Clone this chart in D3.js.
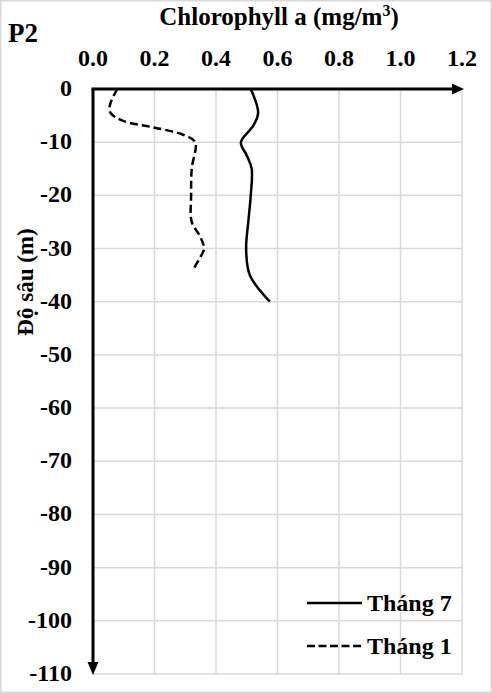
<!DOCTYPE html>
<html>
<head>
<meta charset="utf-8">
<script src="https://cdn.jsdelivr.net/npm/d3@7"></script>
<style>
  body { margin: 0; background: #fff; }
</style>
</head>
<body>
<svg width="492" height="693"></svg>
<script>
(function (d3) {
    'use strict';

    // chlorophyll a (mg/m3) vs depth (m)
    const depthJul = [0, -4.5, -7, -10, -12.5, -15, -20, -25, -30, -35, -40];
    const chlJul   = [0.513, 0.537, 0.52, 0.481, 0.5, 0.516, 0.513, 0.505, 0.498, 0.51, 0.575];

    const depthJan = [0, -3, -4.5, -6, -7.2, -8.6, -10, -15, -20, -25, -27.7, -30, -31.7, -34];
    const chlJan   = [0.079, 0.055, 0.057, 0.098, 0.195, 0.293, 0.332, 0.321, 0.319, 0.321, 0.348, 0.361, 0.348, 0.325];

    const xTicks = [0, 0.2, 0.4, 0.6, 0.8, 1.0, 1.2];
    const yTicks = [0, -10, -20, -30, -40, -50, -60, -70, -80, -90, -100, -110];
    const seriesNames = ['Tháng 7', 'Tháng 1'];

    const FONT = '"Liberation Serif"';
    const svg = d3.select('svg');

    // bold serif text helper
    function label(sel, size) {
        return sel.style('font-family', FONT)
                  .style('font-weight', 'bold')
                  .style('font-size', size + 'px')
                  .attr('fill', '#000');
    }

    svg.append('rect')
        .attr('x', 0.75).attr('y', 0.75)
        .attr('width', 490.5).attr('height', 691.5)
        .attr('fill', 'none')
        .attr('stroke', '#d9d9d9')
        .attr('stroke-width', 1.5);

    const x = d3.scaleLinear().domain([0, 1.2]).range([93, 462]);
    const y = d3.scaleLinear().domain([0, -110]).range([89, 674]);

    // grid
    svg.append('g').selectAll('line').data(xTicks.slice(1)).enter().append('line')
        .attr('x1', d => x(d)).attr('x2', d => x(d))
        .attr('y1', y(0)).attr('y2', y(-110))
        .attr('stroke', '#d9d9d9').attr('stroke-width', 1.5);
    svg.append('g').selectAll('line').data(yTicks.slice(1)).enter().append('line')
        .attr('x1', x(0)).attr('x2', x(1.2))
        .attr('y1', d => y(d)).attr('y2', d => y(d))
        .attr('stroke', '#d9d9d9').attr('stroke-width', 1.5);

    // tick labels
    label(svg.append('g').selectAll('text').data(xTicks).enter().append('text')
        .attr('x', d => x(d)).attr('y', 66)
        .attr('text-anchor', 'middle'), 24)
        .text(d => d3.format('.1f')(d));
    label(svg.append('g').selectAll('text').data(yTicks).enter().append('text')
        .attr('x', 72).attr('y', d => y(d) + 7)
        .attr('text-anchor', 'end'), 24)
        .text(d => d);

    // axes with arrows
    svg.append('line')
        .attr('x1', x(0) - 1.5).attr('x2', 454)
        .attr('y1', y(0)).attr('y2', y(0))
        .attr('stroke', '#000').attr('stroke-width', 3);
    svg.append('path')
        .attr('d', `M452,${y(0) - 5.5} L464,${y(0)} L452,${y(0) + 5.5} Z`)
        .attr('fill', '#000');
    svg.append('line')
        .attr('x1', x(0)).attr('x2', x(0))
        .attr('y1', y(0)).attr('y2', 664)
        .attr('stroke', '#000').attr('stroke-width', 3);
    svg.append('path')
        .attr('d', `M${x(0) - 5.5},662 L${x(0)},675 L${x(0) + 5.5},662 Z`)
        .attr('fill', '#000');

    // lines
    const line = d3.line()
        .x(d => x(d[0]))
        .y(d => y(d[1]))
        .curve(d3.curveCatmullRom.alpha(0.5));

    svg.append('path')
        .datum(d3.zip(chlJul, depthJul))
        .attr('d', line)
        .attr('fill', 'none')
        .attr('stroke', '#000')
        .attr('stroke-width', 2.5);

    svg.append('path')
        .datum(d3.zip(chlJan, depthJan))
        .attr('d', line)
        .attr('fill', 'none')
        .attr('stroke', '#000')
        .attr('stroke-width', 2.5)
        .attr('stroke-dasharray', '8,4');

    // titles
    label(svg.append('text').attr('x', 8).attr('y', 42), 27).text('P2');

    const t = label(svg.append('text').attr('x', 279).attr('y', 25)
        .attr('text-anchor', 'middle'), 25);
    t.append('tspan').text('Chlorophyll a (mg/m');
    t.append('tspan').attr('dy', -9).style('font-size', '16px').text('3');
    t.append('tspan').attr('dy', 9).text(')');

    label(svg.append('text')
        .attr('transform', 'translate(33,282) rotate(-90)')
        .attr('text-anchor', 'middle'), 23)
        .text('Độ sâu (m)');

    // legend
    const legend = svg.append('g').selectAll('g').data(seriesNames).enter().append('g')
        .attr('transform', (d, i) => `translate(0,${603 + i * 43})`);
    legend.append('line')
        .attr('x1', 307).attr('x2', 362)
        .attr('stroke', '#000').attr('stroke-width', 2.5)
        .attr('stroke-dasharray', (d, i) => i ? '8,3.5' : null);
    label(legend.append('text')
        .attr('x', 367).attr('y', 8), 24)
        .text(d => d);
}(d3));
</script>
</body>
</html>
